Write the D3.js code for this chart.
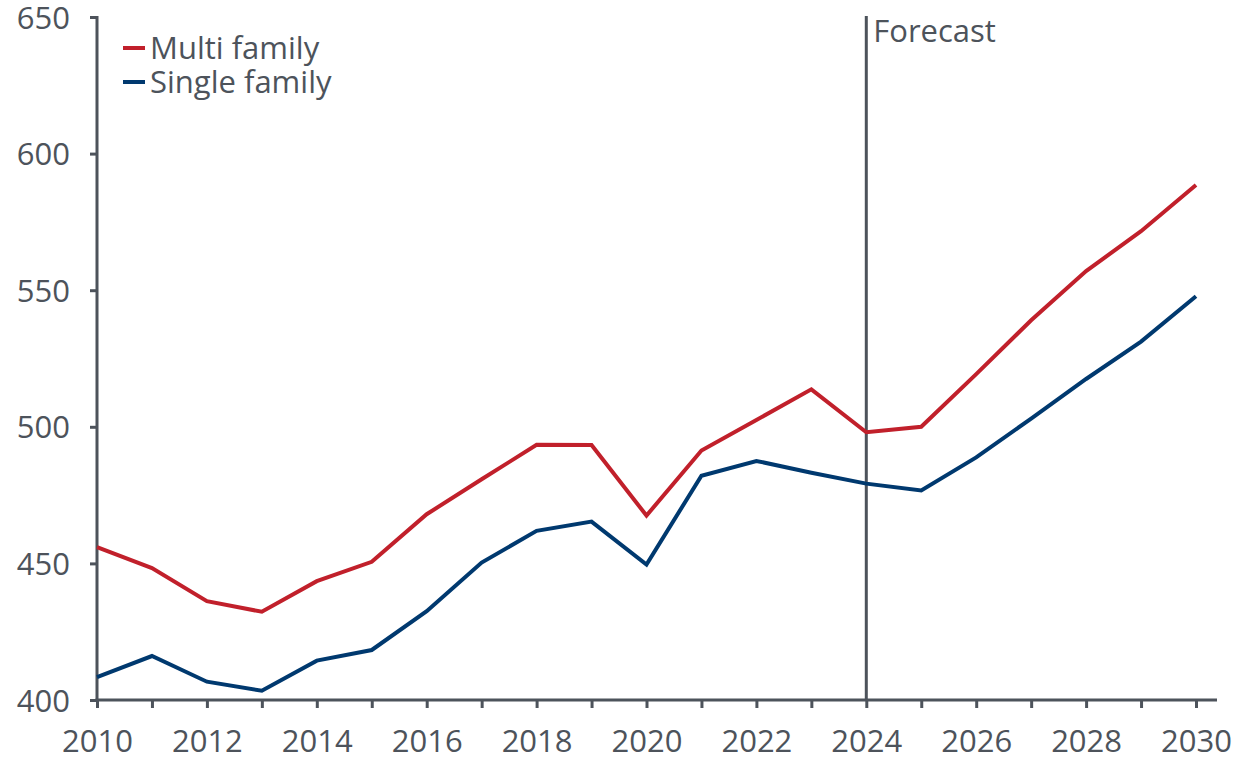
<!DOCTYPE html>
<html>
<head>
<meta charset="utf-8">
<script src="https://cdnjs.cloudflare.com/ajax/libs/d3/7.8.5/d3.min.js"></script>
<style>
  body { margin: 0; background: #fff; }
  svg { display: block; }
  text { font-family: "Open Sans", "Noto Sans", sans-serif; fill: #4d535b; }
</style>
</head>
<body>
<div id="chart"></div>
<script>
// chart data
var years = d3.range(2010, 2031);
var multiFamily = [456, 448.3, 436.2, 432.3, 443.5, 450.6, 468, 480.8, 493.4, 493.3, 467.5,
  491.3, 502.5, 513.7, 498, 500, 519.3, 539, 557, 571.6, 588.5];
var singleFamily = [408.4, 416.1, 406.7, 403.4, 414.4, 418.3, 432.5, 450.3, 461.9, 465.3, 449.6,
  482.1, 487.5, 483.2, 479.2, 476.7, 488.8, 503, 517.5, 531.2, 547.8];
var yTicks = [400, 450, 500, 550, 600, 650];
var xLabelYears = [2010, 2012, 2014, 2016, 2018, 2020, 2022, 2024, 2026, 2028, 2030];
var forecastYear = 2024;
var seriesNames = ["Multi family", "Single family"];
var seriesColors = ["#c1202b", "#00396f"];

var width = 1235, height = 762;
var margin = { top: 17, right: 18, bottom: 62, left: 97 };
var axisColor = "#4d535b";
var fontSize = "31px";

var svg = d3.select("#chart").append("svg")
  .attr("width", width)
  .attr("height", height);

var x = d3.scaleLinear()
  .domain([2010, 2030])
  .range([margin.left, 1196]);

var y = d3.scaleLinear()
  .domain([400, 650])
  .range([height - margin.bottom, margin.top]);

// y axis
var yAxis = svg.append("g")
  .attr("transform", "translate(" + margin.left + ",0)")
  .call(d3.axisLeft(y).tickValues(yTicks).tickSize(7).tickSizeOuter(0).tickPadding(20));
yAxis.select(".domain").remove();
yAxis.selectAll(".tick line").attr("stroke", axisColor).attr("stroke-width", 3);
yAxis.selectAll(".tick text").style("font-size", fontSize).attr("dy", "0.36em");
svg.append("line")
  .attr("x1", margin.left).attr("x2", margin.left)
  .attr("y1", y(650) - 1).attr("y2", y(400) + 1.5)
  .attr("stroke", axisColor).attr("stroke-width", 3);

// x axis
var xAxis = svg.append("g")
  .attr("transform", "translate(0," + y(400) + ")")
  .call(d3.axisBottom(x).tickValues(years).tickSize(8).tickSizeOuter(0).tickPadding(22)
    .tickFormat(function (d) { return xLabelYears.indexOf(d) >= 0 ? d : ""; }));
xAxis.select(".domain").remove();
xAxis.selectAll(".tick line").attr("stroke", axisColor).attr("stroke-width", 3);
xAxis.selectAll(".tick text").style("font-size", fontSize);
svg.append("line")
  .attr("x1", margin.left - 1.5).attr("x2", width - margin.right)
  .attr("y1", y(400)).attr("y2", y(400))
  .attr("stroke", axisColor).attr("stroke-width", 3);

// forecast marker
svg.append("line")
  .attr("x1", x(forecastYear)).attr("x2", x(forecastYear))
  .attr("y1", y(650) - 1).attr("y2", y(400))
  .attr("stroke", axisColor).attr("stroke-width", 3);
svg.append("text")
  .attr("x", x(forecastYear) + 7)
  .attr("y", 42)
  .style("font-size", fontSize)
  .text("Forecast");

// lines
var line = d3.line()
  .x(function (d, i) { return x(years[i]); })
  .y(function (d) { return y(d); });

[multiFamily, singleFamily].forEach(function (values, i) {
  svg.append("path")
    .datum(values)
    .attr("fill", "none")
    .attr("stroke", seriesColors[i])
    .attr("stroke-width", 4)
    .attr("stroke-linejoin", "miter")
    .attr("d", line);
});

// legend
var legend = svg.append("g").attr("transform", "translate(123,48)");
seriesNames.forEach(function (name, i) {
  legend.append("line")
    .attr("x1", 0).attr("x2", 22)
    .attr("y1", i * 34).attr("y2", i * 34)
    .attr("stroke", seriesColors[i])
    .attr("stroke-width", 4);
  legend.append("text")
    .attr("x", 27)
    .attr("y", i * 34 + 11)
    .style("font-size", fontSize)
    .text(name);
});
</script>
</body>
</html>
